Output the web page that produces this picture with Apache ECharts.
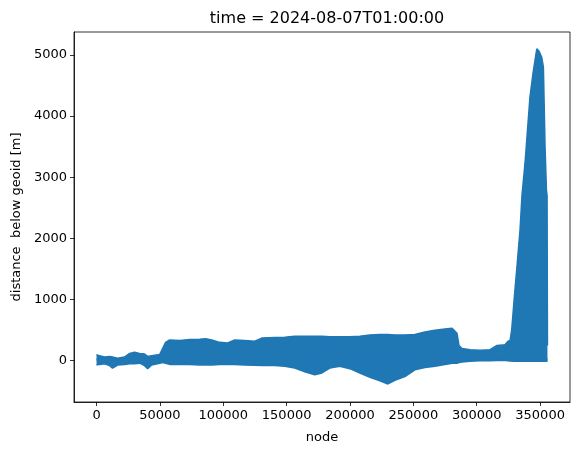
<!DOCTYPE html>
<html>
<head>
<meta charset="utf-8">
<script src="https://cdn.jsdelivr.net/npm/echarts@6/dist/echarts.min.js"></script>
<style>
  html, body { margin: 0; padding: 0; background: #fff; }
  #chart { width: 580px; height: 455px; }
</style>
</head>
<body>
<div id="chart"></div>
<script>
// node positions where the envelope of the line was read
var nodes = [0, 2400, 6300, 10300, 12600, 16600, 22100, 26100, 30000, 34000,
  37900, 40300, 43500, 49800, 52100, 54500, 57700, 65600, 73500, 81400,
  86100, 90900, 97200, 103500, 109000, 116900, 124800, 130400, 140600, 148500,
  156400, 164300, 172200, 177800, 184100, 192000, 199900, 207800, 215700, 223600,
  229900, 235400, 243300, 251200, 259100, 267000, 274900, 280500, 284400, 286000,
  288400, 294700, 302600, 310500, 316000, 322300, 324700, 326300, 327600, 329700,
  332000, 334200, 335700, 338100, 342000, 344400, 347400, 349200, 351300, 352600,
  353100, 353900, 355000, 355500, 355800];
// upper envelope [m]
var upper = [100, 80, 60, 70, 60, 40, 60, 120, 140, 120,
  110, 70, 80, 100, 200, 300, 340, 330, 345, 350,
  360, 340, 300, 290, 340, 330, 320, 370, 380, 385,
  400, 400, 400, 400, 390, 390, 390, 400, 420, 430,
  430, 420, 420, 430, 470, 500, 520, 530, 450, 250,
  200, 180, 170, 180, 250, 260, 320, 330, 505, 1045,
  1600, 2150, 2700, 3230, 4310, 4700, 5100, 5060, 4960, 4800,
  4300, 3500, 2790, 2700, 250];
// lower envelope [m]
var lower = [-70, -60, -50, -80, -120, -70, -60, -50, -50, -40,
  -80, -130, -70, -40, -30, -40, -60, -60, -60, -70,
  -65, -70, -60, -60, -60, -70, -75, -80, -80, -90,
  -120, -180, -230, -200, -120, -90, -130, -200, -270, -330,
  -380, -320, -260, -150, -110, -90, -60, -40, -40, -30,
  -20, -10, 0, 0, 5, 5, 0, -5, -5, -10,
  -10, -10, -10, -10, -10, -10, -10, -10, -10, -10,
  -10, -10, -10, -10, -10];
var xTicks = [0, 50000, 100000, 150000, 200000, 250000, 300000, 350000];
var yTicks = [0, 1000, 2000, 3000, 4000, 5000];

var blue = '#1f77b4';
var font = 'DejaVu Sans';

var upperData = nodes.map(function (n, i) { return [n, upper[i]]; });
var lowerData = nodes.map(function (n, i) { return [n, lower[i]]; });

var chart = echarts.init(document.getElementById('chart'));

function plain(v) { return String(v); }

var option = {
  animation: false,
  title: {
    text: 'time = 2024-08-07T01:00:00',
    left: 322,
    top: 6,
    textAlign: 'center',
    textStyle: { fontFamily: font, fontSize: 16, fontWeight: 'normal', color: '#000' }
  },
  grid: {
    left: 74, right: 10, top: 32, bottom: 53,
    show: true, borderColor: '#000', borderWidth: 0.8, backgroundColor: '#fff'
  },
  xAxis: {
    type: 'value',
    z: 10,
    min: -17790, max: 373590,
    name: 'node',
    nameLocation: 'middle',
    nameGap: 29,
    nameTextStyle: { fontFamily: font, fontSize: 13, color: '#000' },
    splitLine: { show: false },
    axisLine: { show: true, onZero: false, lineStyle: { color: '#000', width: 0.8 } },
    axisTick: { show: true, inside: false, length: 4, customValues: xTicks, lineStyle: { color: '#000', width: 0.8 } },
    axisLabel: { customValues: xTicks, formatter: plain, margin: 7, fontFamily: font, fontSize: 13, color: '#000' }
  },
  yAxis: {
    type: 'value',
    z: 10,
    min: -675, max: 5375,
    name: 'distance  below geoid [m]',
    nameLocation: 'middle',
    nameGap: 48,
    nameTextStyle: { fontFamily: font, fontSize: 13, color: '#000' },
    splitLine: { show: false },
    axisLine: { show: true, onZero: false, lineStyle: { color: '#000', width: 0.8 } },
    axisTick: { show: true, inside: false, length: 4, customValues: yTicks, lineStyle: { color: '#000', width: 0.8 } },
    axisLabel: { customValues: yTicks, formatter: plain, margin: 7, fontFamily: font, fontSize: 13, color: '#000' }
  },
  series: [
    {
      // upper envelope, filled down to 0
      type: 'line',
      data: upperData,
      symbol: 'none',
      lineStyle: { color: blue, width: 1.5 },
      areaStyle: { color: blue, opacity: 1, origin: 0 }
    },
    {
      // lower envelope, filled up a little past 0 so the two fills overlap
      type: 'line',
      data: lowerData,
      symbol: 'none',
      lineStyle: { color: blue, width: 1.5 },
      areaStyle: { color: blue, opacity: 1, origin: 40 }
    }
  ]
};

chart.setOption(option);
</script>
</body>
</html>
